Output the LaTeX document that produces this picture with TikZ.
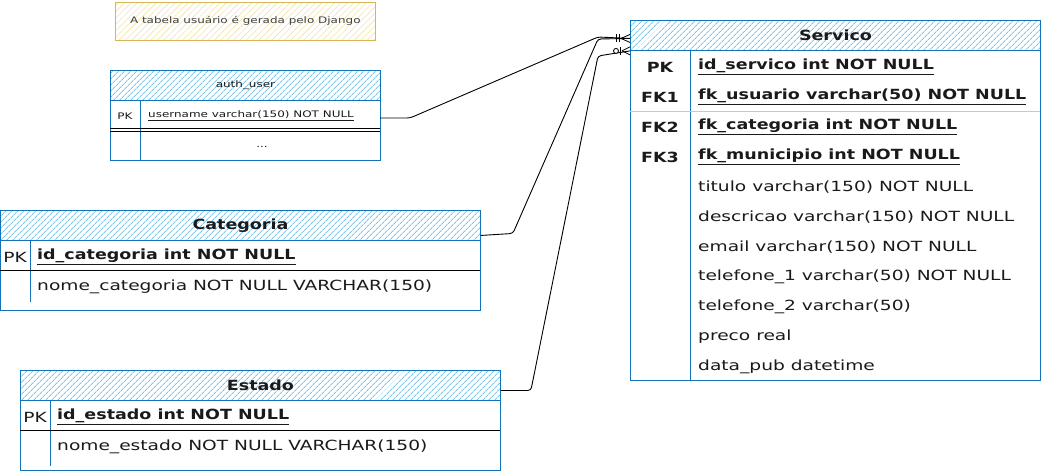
\documentclass[tikz,border=0pt]{standalone}
\usepackage{fontspec}
\setmainfont{DejaVu Sans}[FakeStretch=1.33, BoldFeatures={FakeStretch=1.25}]
\usetikzlibrary{patterns.meta,calc}
\definecolor{tblue}{HTML}{1273B8}
\definecolor{hatchblue}{HTML}{7DC6EE}
\definecolor{noteborder}{HTML}{D6B656}
\definecolor{notehatch}{HTML}{F2E2A8}
\definecolor{txt}{HTML}{1A1A1A}
\definecolor{sepgray}{HTML}{C8C8C8}
\newcommand\fldfont{\fontsize{14}{16}\selectfont}
\newcommand\smfont{\fontsize{9}{11}\selectfont}
\begin{document}
\begin{tikzpicture}[x=1pt,y=-1pt,
  hdr/.style={draw=tblue, line width=0.9pt, pattern={Lines[angle=45,distance=4pt,line width=0.9pt]}, pattern color=hatchblue, inner sep=0pt, anchor=north west, text=txt, font=\fldfont\bfseries},
  bodybox/.style={draw=tblue, line width=0.9pt, fill=white, inner sep=0pt, anchor=north west},
  notebox/.style={draw=noteborder, line width=0.8pt, pattern={Lines[angle=45,distance=4.5pt,line width=0.6pt]}, pattern color=notehatch, inner sep=0pt, anchor=north west, text=black!75, font=\fontsize{9}{11}\selectfont},
  fld/.style={anchor=west, inner sep=0pt, text=txt, font=\fldfont},
  key/.style={anchor=center, inner sep=0pt, text=txt, font=\fldfont},
  sfld/.style={anchor=west, inner sep=0pt, text=txt, font=\smfont},
  skey/.style={anchor=center, inner sep=0pt, text=txt, font=\smfont},
  col/.style={draw=tblue, line width=0.9pt},
  sep/.style={draw=black, line width=0.7pt},
  conn/.style={draw=black, line width=0.9pt, rounded corners=3pt},
  mk/.style={draw=black, line width=0.8pt}
]
\useasboundingbox (0,0) rectangle (1041,471);

% note
\node[notebox, minimum width=260pt, minimum height=38pt] (note) at (115,2) {A tabela usuário é gerada pelo Django};

% auth_user
\node[hdr, minimum width=270pt, minimum height=30pt, font=\smfont] (aH) at (110,70) {auth\_user};
\node[bodybox, minimum width=270pt, minimum height=60pt] (aB) at (110,100) {};
\draw[col] (140,100) -- (140,160);
\draw[sep] (110,128) -- (380,128);
\draw[sep] (110,131) -- (380,131);
\node[skey] (aK1) at (125,116) {PK};
\node[sfld] (aF1) at (148,116) {\underline{username varchar(150) NOT NULL}};
\node[sfld, anchor=center] (aF2) at (262,147) {...};
\coordinate (aOut) at (380,118);

% Categoria
\node[hdr, minimum width=480pt, minimum height=30pt] (cH) at (0,210) {Categoria};
\node[bodybox, minimum width=480pt, minimum height=70pt] (cB) at (0,240) {};
\draw[col] (30,240) -- (30,302);
\draw[sep] (0,270) -- (480,270);
\node[key] (cK1) at (15,257) {PK};
\node[fld, font=\fldfont\bfseries] (cF1) at (37,257) {\underline{id\_categoria int NOT NULL}};
\node[fld] (cF2) at (37,287) {nome\_categoria NOT NULL VARCHAR(150)};
\coordinate (cOut) at ($(cH.east)+(0,10)$);

% Estado
\node[hdr, minimum width=480pt, minimum height=30pt] (eH) at (20,370) {Estado};
\node[bodybox, minimum width=480pt, minimum height=70pt] (eB) at (20,400) {};
\draw[col] (50,400) -- (50,466);
\draw[sep] (20,430) -- (500,430);
\node[key] (eK1) at (35,417) {PK};
\node[fld, font=\fldfont\bfseries] (eF1) at (57,417) {\underline{id\_estado int NOT NULL}};
\node[fld] (eF2) at (57,447) {nome\_estado NOT NULL VARCHAR(150)};
\coordinate (eOut) at ($(eH.east)+(0,5)$);

% Servico
\node[hdr, minimum width=410pt, minimum height=30pt] (sH) at (630,20) {Servico};
\node[bodybox, minimum width=410pt, minimum height=330pt] (sB) at (630,50) {};
\draw[col] (690,50) -- (690,380);
\draw[sepgray, line width=0.6pt] (630,111) -- (1040,111);
\node[key, font=\fldfont\bfseries] (sK1) at (660,67) {PK};
\node[key, font=\fldfont\bfseries] (sK2) at (660,97) {FK1};
\node[key, font=\fldfont\bfseries] (sK3) at (660,127) {FK2};
\node[key, font=\fldfont\bfseries] (sK4) at (660,157) {FK3};
\node[fld, font=\fldfont\bfseries] (sF1) at (698,67) {\underline{id\_servico int NOT NULL}};
\node[fld, font=\fldfont\bfseries] (sF2) at (698,97) {\underline{fk\_usuario varchar(50) NOT NULL}};
\node[fld, font=\fldfont\bfseries] (sF3) at (698,127) {\underline{fk\_categoria int NOT NULL}};
\node[fld, font=\fldfont\bfseries] (sF4) at (698,157) {\underline{fk\_municipio int NOT NULL}};
\node[fld] (sF5) at (698,187) {titulo varchar(150) NOT NULL};
\node[fld] (sF6) at (698,217) {descricao varchar(150) NOT NULL};
\node[fld] (sF7) at (698,247) {email varchar(150) NOT NULL};
\node[fld] (sF8) at (698,277) {telefone\_1 varchar(50) NOT NULL};
\node[fld] (sF9) at (698,307) {telefone\_2 varchar(50)};
\node[fld] (sF10) at (698,337) {preco real};
\node[fld] (sF11) at (698,367) {data\_pub datetime};

\coordinate (sIn1) at ($(sH.west)+(0,3)$);
\coordinate (sIn2) at (sH.south west);

% connectors
\draw[conn] (aOut) -- ++(30,0) -- (598,37) -- (sIn1);
\draw[conn] (cOut) -- ++(32,-2) -- (598,39) -- (sIn1);
\draw[conn] (eOut) -- ++(30,0) -- (598,56) -- (sIn2);

% markers
\draw[mk] ($(sIn1)+(-9,0)$) -- ($(sIn1)+(0,-4)$);
\draw[mk] ($(sIn1)+(-9,0)$) -- ($(sIn1)+(0,4)$);
\draw[mk] ($(sIn1)+(-11,-4)$) -- ($(sIn1)+(-11,4)$);
\draw[mk] ($(sIn1)+(-14,-4)$) -- ($(sIn1)+(-14,4)$);
\draw[mk] ($(sIn2)+(-8,0)$) -- ($(sIn2)+(0,-4)$);
\draw[mk] ($(sIn2)+(-8,0)$) -- ($(sIn2)+(0,4)$);
\draw[mk] ($(sIn2)+(-10,-4)$) -- ($(sIn2)+(-10,4)$);
\draw[mk, fill=white] ($(sIn2)+(-14,0)$) circle (2.5pt);
\end{tikzpicture}
\end{document}
